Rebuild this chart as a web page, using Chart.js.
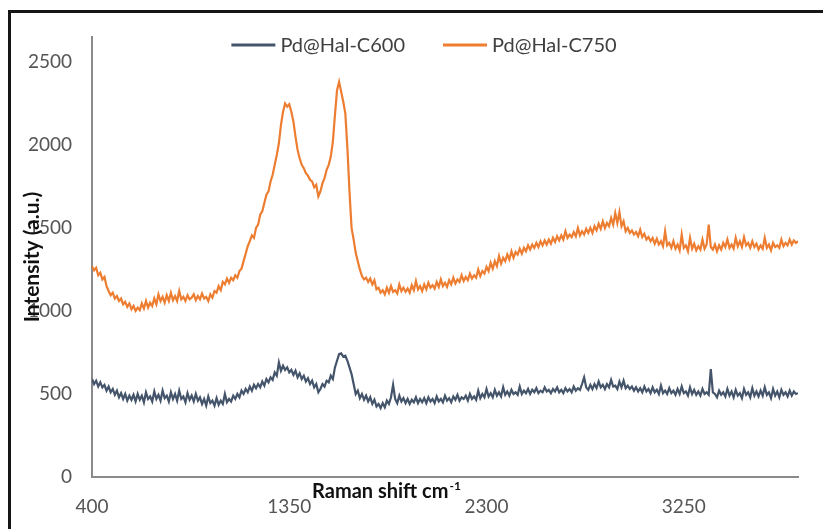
<!DOCTYPE html>
<html>
<head>
<meta charset="utf-8">
<script src="https://cdn.jsdelivr.net/npm/chart.js@4.4.0/dist/chart.umd.min.js"></script>
<style>
    html, body { margin: 0; padding: 0; background: #fff; }
    #wrap { position: relative; width: 823px; height: 529px; overflow: hidden; }
    #frame { position: absolute; left: 8px; top: 10px; width: 900px; height: 600px;
             border-top: 3px solid #161616; border-left: 3px solid #161616; pointer-events: none; }
    canvas { position: absolute; left: 0; top: 0; }
</style>
</head>
<body>
<div id="wrap">
    <canvas id="ramanChart" width="823" height="529"></canvas>
    <div id="frame"></div>
</div>
<script>
// Raman shift (cm-1), eine Zeile = 200 cm-1
const ramanShift = [
    400, 410, 420, 430, 440, 450, 460, 470, 480, 490, 500, 510, 520, 530, 540, 550, 560, 570, 580, 590,
    600, 610, 620, 630, 640, 650, 660, 670, 680, 690, 700, 710, 720, 730, 740, 750, 760, 770, 780, 790,
    800, 810, 820, 830, 840, 850, 860, 870, 880, 890, 900, 910, 920, 930, 940, 950, 960, 970, 980, 990,
    1000, 1010, 1020, 1030, 1040, 1050, 1060, 1070, 1080, 1090, 1100, 1110, 1120, 1130, 1140, 1150, 1160, 1170, 1180, 1190,
    1200, 1210, 1220, 1230, 1240, 1250, 1260, 1270, 1280, 1290, 1300, 1310, 1320, 1330, 1340, 1350, 1360, 1370, 1380, 1390,
    1400, 1410, 1420, 1430, 1440, 1450, 1460, 1470, 1480, 1490, 1500, 1510, 1520, 1530, 1540, 1550, 1560, 1570, 1580, 1590,
    1600, 1610, 1620, 1630, 1640, 1650, 1660, 1670, 1680, 1690, 1700, 1710, 1720, 1730, 1740, 1750, 1760, 1770, 1780, 1790,
    1800, 1810, 1820, 1830, 1840, 1850, 1860, 1870, 1880, 1890, 1900, 1910, 1920, 1930, 1940, 1950, 1960, 1970, 1980, 1990,
    2000, 2010, 2020, 2030, 2040, 2050, 2060, 2070, 2080, 2090, 2100, 2110, 2120, 2130, 2140, 2150, 2160, 2170, 2180, 2190,
    2200, 2210, 2220, 2230, 2240, 2250, 2260, 2270, 2280, 2290, 2300, 2310, 2320, 2330, 2340, 2350, 2360, 2370, 2380, 2390,
    2400, 2410, 2420, 2430, 2440, 2450, 2460, 2470, 2480, 2490, 2500, 2510, 2520, 2530, 2540, 2550, 2560, 2570, 2580, 2590,
    2600, 2610, 2620, 2630, 2640, 2650, 2660, 2670, 2680, 2690, 2700, 2710, 2720, 2730, 2740, 2750, 2760, 2770, 2780, 2790,
    2800, 2810, 2820, 2830, 2840, 2850, 2860, 2870, 2880, 2890, 2900, 2910, 2920, 2930, 2940, 2950, 2960, 2970, 2980, 2990,
    3000, 3010, 3020, 3030, 3040, 3050, 3060, 3070, 3080, 3090, 3100, 3110, 3120, 3130, 3140, 3150, 3160, 3170, 3180, 3190,
    3200, 3210, 3220, 3230, 3240, 3250, 3260, 3270, 3280, 3290, 3300, 3310, 3320, 3330, 3340, 3350, 3360, 3370, 3380, 3390,
    3400, 3410, 3420, 3430, 3440, 3450, 3460, 3470, 3480, 3490, 3500, 3510, 3520, 3530, 3540, 3550, 3560, 3570, 3580, 3590,
    3600, 3610, 3620, 3630, 3640, 3650, 3660, 3670, 3680, 3690, 3700, 3710, 3720, 3730, 3740, 3750, 3760, 3770, 3780, 3790,
    3800
];

// Pd@Hal-C600
const c600 = [
    590, 560, 580, 545, 570, 540, 555, 520, 545, 510, 530, 495, 520, 480, 505, 470, 500, 460, 490, 465,
    495, 455, 500, 465, 490, 450, 510, 470, 485, 455, 515, 470, 495, 460, 520, 475, 490, 455, 510, 470,
    500, 460, 520, 470, 485, 450, 505, 465, 490, 455, 500, 460, 480, 440, 470, 430, 485, 445, 460, 430,
    475, 435, 460, 440, 500, 450, 470, 455, 490, 470, 500, 480, 520, 500, 530, 510, 545, 520, 555, 535,
    560, 540, 575, 550, 590, 570, 600, 585, 630, 610, 690, 640, 670, 645, 660, 630, 645, 615, 640, 600,
    625, 590, 610, 575, 595, 560, 580, 540, 560, 510, 530, 560, 545, 580, 570, 610, 590, 660, 700, 740,
    745, 725, 730, 700, 660, 620, 560, 500, 520, 475, 500, 465, 490, 455, 480, 440, 465, 425, 440, 415,
    445, 420, 460, 440, 480, 555, 470, 445, 490, 455, 475, 445, 470, 440, 465, 450, 480, 445, 470, 450,
    475, 445, 480, 455, 470, 445, 485, 455, 470, 450, 490, 460, 475, 450, 485, 465, 495, 460, 480, 470,
    490, 460, 500, 470, 485, 465, 520, 475, 500, 480, 530, 485, 505, 480, 525, 490, 510, 485, 540, 495,
    515, 490, 525, 500, 510, 495, 545, 500, 520, 505, 530, 500, 525, 510, 535, 505, 520, 510, 540, 515,
    525, 505, 530, 515, 540, 510, 525, 505, 535, 515, 530, 510, 545, 520, 535, 525, 560, 600, 540, 525,
    555, 530, 560, 535, 575, 540, 555, 530, 560, 540, 585, 545, 550, 530, 575, 540, 580, 535, 550, 530,
    545, 520, 540, 515, 535, 510, 545, 515, 530, 505, 540, 510, 525, 500, 550, 505, 520, 500, 535, 505,
    520, 495, 530, 500, 545, 505, 515, 490, 540, 500, 525, 495, 515, 490, 530, 500, 510, 495, 650, 510,
    500, 480, 520, 495, 510, 485, 530, 490, 515, 480, 525, 490, 505, 475, 530, 495, 510, 480, 535, 490,
    515, 485, 520, 490, 540, 495, 510, 475, 530, 490, 515, 480, 525, 495, 510, 485, 520, 490, 515, 500,
    505
];

// Pd@Hal-C750
const c750 = [
    1270, 1245, 1260, 1215, 1230, 1190, 1205, 1150, 1120, 1095, 1110, 1075, 1090, 1060, 1075, 1040, 1055, 1025, 1045, 1010,
    1030, 1000, 1020, 1005, 1045, 1015, 1060, 1020, 1050, 1030, 1075, 1040, 1100, 1060, 1085, 1050, 1095, 1060, 1110, 1065,
    1090, 1060, 1120, 1070, 1085, 1060, 1095, 1070, 1080, 1100, 1065, 1090, 1070, 1105, 1075, 1085, 1060, 1100, 1080, 1120,
    1110, 1150, 1125, 1175, 1160, 1195, 1170, 1200, 1185, 1215, 1200, 1240, 1255, 1300, 1345, 1390, 1420, 1455, 1440, 1500,
    1520, 1580, 1600, 1650, 1700, 1720, 1780, 1820, 1880, 1940, 2010, 2120, 2200, 2250, 2230, 2245, 2200, 2140, 2050, 1970,
    1920, 1880, 1860, 1830, 1815, 1790, 1780, 1745, 1760, 1690, 1720, 1770, 1800, 1850, 1880, 1930, 2020, 2180, 2330, 2380,
    2320, 2260, 2190, 1980, 1720, 1500, 1430, 1350, 1300, 1250, 1210, 1190, 1200, 1175, 1195, 1160, 1185, 1130, 1140, 1110,
    1125, 1100, 1140, 1110, 1150, 1115, 1125, 1105, 1160, 1120, 1140, 1115, 1135, 1110, 1155, 1125, 1180, 1130, 1150, 1120,
    1160, 1130, 1170, 1140, 1155, 1135, 1175, 1145, 1190, 1150, 1170, 1145, 1185, 1160, 1200, 1165, 1190, 1175, 1215, 1180,
    1205, 1185, 1225, 1195, 1215, 1200, 1250, 1210, 1240, 1225, 1265, 1240, 1290, 1255, 1300, 1270, 1330, 1285, 1320, 1300,
    1340, 1310, 1360, 1320, 1355, 1340, 1375, 1345, 1380, 1360, 1395, 1370, 1400, 1380, 1410, 1385, 1420, 1395, 1425, 1400,
    1430, 1405, 1440, 1415, 1450, 1425, 1455, 1430, 1480, 1440, 1460, 1445, 1475, 1450, 1500, 1455, 1480, 1460, 1495, 1470,
    1500, 1470, 1510, 1485, 1525, 1495, 1540, 1500, 1530, 1510, 1560, 1520, 1590, 1530, 1595, 1510, 1540, 1480, 1500, 1470,
    1485, 1460, 1475, 1450, 1490, 1445, 1465, 1430, 1445, 1420, 1440, 1405, 1435, 1400, 1420, 1390, 1480, 1395, 1410, 1380,
    1420, 1375, 1400, 1365, 1460, 1380, 1395, 1360, 1440, 1375, 1405, 1365, 1390, 1370, 1430, 1375, 1400, 1520, 1385, 1370,
    1400, 1360, 1395, 1370, 1410, 1385, 1430, 1380, 1400, 1375, 1440, 1390, 1420, 1385, 1445, 1395, 1410, 1380, 1420, 1385,
    1405, 1370, 1395, 1375, 1440, 1380, 1400, 1365, 1410, 1385, 1395, 1380, 1430, 1390, 1410, 1395, 1430, 1400, 1425, 1410,
    1420
];

const seriesNames = ['Pd@Hal-C600', 'Pd@Hal-C750'];
const seriesColors = ['#44546A', '#ED7D31'];
const xTicks = [400, 1350, 2300, 3250];
const yTicks = [0, 500, 1000, 1500, 2000, 2500];

const FONT = 'Lato, "Open Sans", sans-serif';

function toPoints(values) {
    return values.map((v, i) => ({ x: ramanShift[i], y: v }));
}

// legende + achsentitel (liegen im Original über Plot / Ticklabels)
const overlayPlugin = {
    id: 'overlay',
    afterDraw(chart) {
        const ctx = chart.ctx;
        ctx.save();

        // legend
        ctx.font = '20px ' + FONT;
        ctx.textBaseline = 'middle';
        const sampleW = 44, gap = 5, itemGap = 38;
        const widths = seriesNames.map(n => sampleW + gap + ctx.measureText(n).width);
        const total = widths.reduce((a, b) => a + b, 0) + itemGap;
        let x = 424 - total / 2;
        const y = 45;
        chart.data.datasets.forEach((ds, i) => {
            ctx.strokeStyle = ds.borderColor;
            ctx.lineWidth = 3;
            ctx.beginPath();
            ctx.moveTo(x, y);
            ctx.lineTo(x + sampleW, y);
            ctx.stroke();
            ctx.fillStyle = '#404040';
            ctx.textAlign = 'left';
            ctx.fillText(ds.label, x + sampleW + gap, y + 1);
            x += widths[i] + itemGap;
        });

        // y title
        ctx.fillStyle = '#111';
        ctx.font = 'bold 21px ' + FONT;
        ctx.translate(32, 257);
        ctx.rotate(-Math.PI / 2);
        ctx.textAlign = 'center';
        ctx.fillText('Intensity (a.u.)', 0, 0);
        ctx.setTransform(1, 0, 0, 1, 0, 0);

        // x title mit hochgestellter -1
        const main = 'Raman shift cm';
        const sup = '-1';
        ctx.font = 'bold 20px ' + FONT;
        const mw = ctx.measureText(main).width;
        ctx.font = 'bold 12px ' + FONT;
        const sw = ctx.measureText(sup).width;
        const tx = 386 - (mw + sw) / 2;
        ctx.textAlign = 'left';
        ctx.font = 'bold 20px ' + FONT;
        ctx.fillText(main, tx, 492);
        ctx.font = 'bold 12px ' + FONT;
        ctx.fillText(sup, tx + mw + 1, 486);

        ctx.restore();
    }
};

new Chart(document.getElementById('ramanChart'), {
    type: 'line',
    data: {
        datasets: [
            {
                label: seriesNames[0],
                data: toPoints(c600),
                borderColor: seriesColors[0],
                borderWidth: 2.2,
                pointRadius: 0,
                tension: 0
            },
            {
                label: seriesNames[1],
                data: toPoints(c750),
                borderColor: seriesColors[1],
                borderWidth: 2.2,
                pointRadius: 0,
                tension: 0
            }
        ]
    },
    options: {
        responsive: false,
        animation: false,
        layout: { padding: { left: 0, right: 25, top: 37, bottom: 0 } },
        plugins: {
            legend: { display: false },
            tooltip: { enabled: false }
        },
        scales: {
            x: {
                type: 'linear',
                min: 400,
                max: 3800,
                afterBuildTicks: s => { s.ticks = xTicks.map(v => ({ value: v })); },
                afterFit: s => { s.height = 52; },
                grid: { display: false, drawTicks: false },
                border: { display: true, color: '#8a8a8a', width: 2 },
                ticks: { color: '#555', font: { family: FONT, size: 19 }, padding: 18, maxRotation: 0,
                         callback: v => String(v) }
            },
            y: {
                min: 0,
                max: 2650,
                afterBuildTicks: s => { s.ticks = yTicks.map(v => ({ value: v })); },
                afterFit: s => { s.width = 92; },
                grid: { display: false, drawTicks: false },
                border: { display: true, color: '#8a8a8a', width: 2 },
                ticks: { color: '#555', font: { family: FONT, size: 19 }, padding: 20,
                         callback: v => String(v) }
            }
        }
    },
    plugins: [overlayPlugin]
});
</script>
</body>
</html>
